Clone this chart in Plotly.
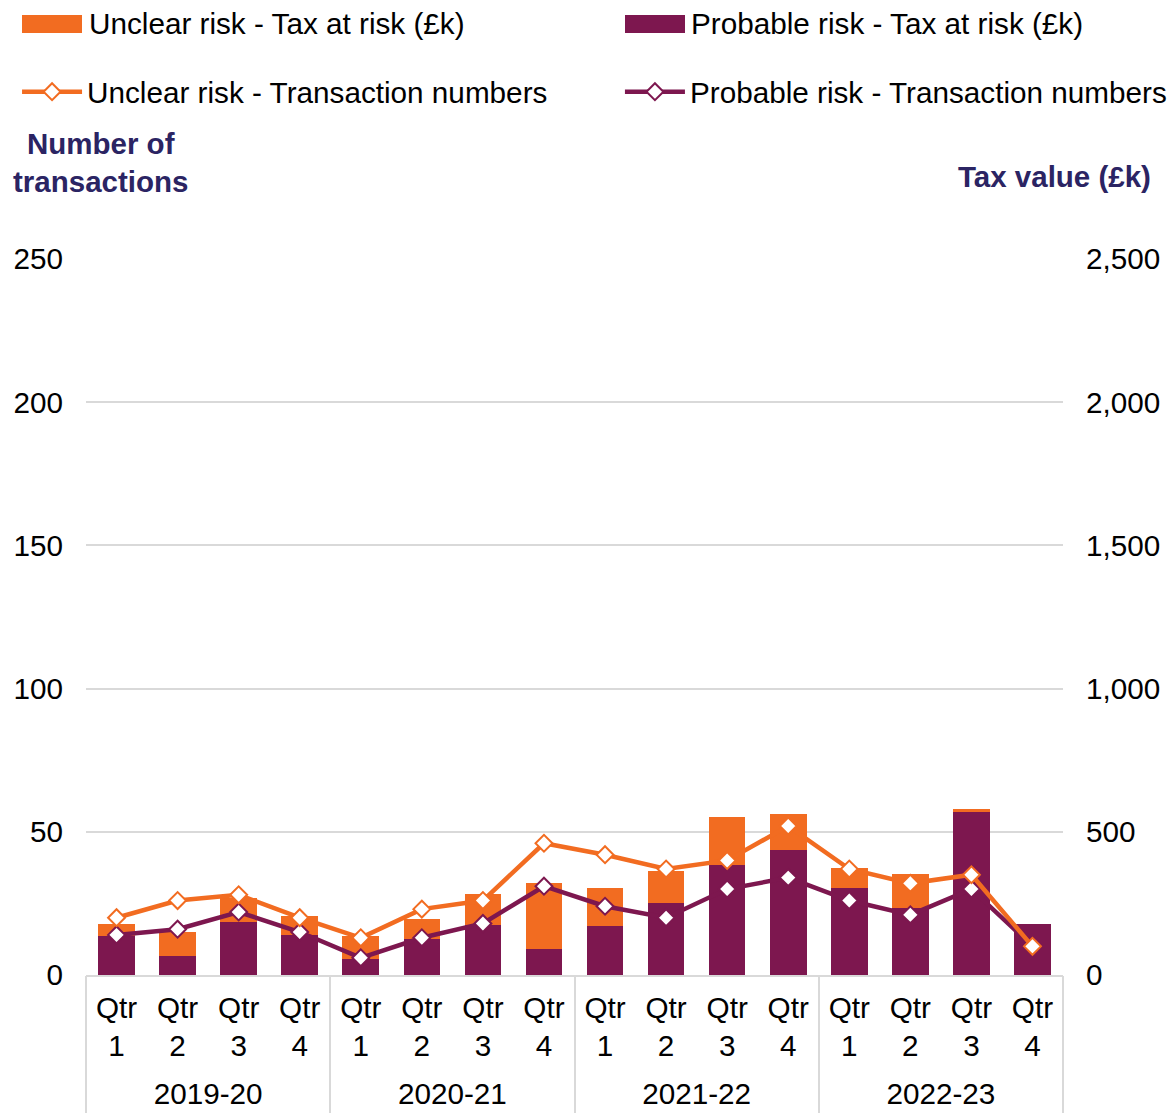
import plotly.graph_objects as go

years = ["2019-20"] * 4 + ["2020-21"] * 4 + ["2021-22"] * 4 + ["2022-23"] * 4
quarters = ["Qtr<br>1", "Qtr<br>2", "Qtr<br>3", "Qtr<br>4"] * 4
year_labels = ["2019-20", "2020-21", "2021-22", "2022-23"]

probable_tax = [136, 67, 186, 140, 56, 126, 174, 91, 172, 252, 384, 438, 305, 235, 570, 178]
unclear_tax = [42, 82, 82, 66, 81, 71, 110, 229, 131, 112, 169, 124, 70, 117, 11, 0]
unclear_txn = [20, 26, 28, 20, 13, 23, 26, 46, 42, 37, 40, 52, 37, 32, 35, 10]
probable_txn = [14, 16, 22, 15, 6, 13, 18, 31, 24, 20, 30, 34, 26, 21, 30, 10]

ORANGE = "#F26C21"
PURPLE = "#7D174F"
NAVY = "#2B2463"
GRID = "#D9D9D9"
FONT = "Liberation Sans, Arial, sans-serif"
FS = 29.7

cats = [f"{y} {q}" for y, q in zip(years, quarters)]

# page has an 8px body margin; plot area target: x 86..1063, y 259..975
PL, PW, PB, PH = 86, 977, 975, 716


def px(x):
    return (x - PL) / PW


def py(y):
    return (PB - y) / PH


fig = go.Figure()
fig.add_trace(go.Bar(x=cats, y=probable_tax, name="Probable risk - Tax at risk (£k)",
                     marker=dict(color=PURPLE, line=dict(width=0)), yaxis="y",
                     showlegend=False))
fig.add_trace(go.Bar(x=cats, y=unclear_tax, name="Unclear risk - Tax at risk (£k)",
                     marker=dict(color=ORANGE, line=dict(width=0)), yaxis="y",
                     showlegend=False))
fig.add_trace(go.Scatter(x=cats, y=probable_txn, name="Probable risk - Transaction numbers",
                         mode="lines+markers", yaxis="y2",
                         line=dict(color=PURPLE, width=4.5),
                         marker=dict(symbol="diamond", size=13, color="white",
                                     line=dict(color=PURPLE, width=2)),
                         legend="legend4"))
fig.add_trace(go.Scatter(x=cats, y=unclear_txn, name="Unclear risk - Transaction numbers",
                         mode="lines+markers", yaxis="y2",
                         line=dict(color=ORANGE, width=4.5),
                         marker=dict(symbol="diamond", size=13, color="white",
                                     line=dict(color=ORANGE, width=2)),
                         legend="legend3"))
# year-group axis
fig.add_trace(go.Scatter(x=year_labels, y=[None] * 4, xaxis="x2", yaxis="y",
                         mode="markers", showlegend=False, hoverinfo="skip"))

leg = dict(orientation="h", xref="container", yref="container", xanchor="left",
           yanchor="top", itemwidth=60, font=dict(size=FS, color="#000000"),
           bgcolor="rgba(0,0,0,0)")

# legend key for the bar series (drawn manually so it can sit at the very top)
shapes = [
    dict(type="rect", xref="paper", yref="paper", x0=px(22), x1=px(82), y0=py(33), y1=py(15),
         fillcolor=ORANGE, line=dict(width=0), layer="above"),
    dict(type="rect", xref="paper", yref="paper", x0=px(625), x1=px(685), y0=py(33), y1=py(15),
         fillcolor=PURPLE, line=dict(width=0), layer="above"),
]

fig.update_layout(
    width=1175, height=1113,
    margin=dict(l=PL - 8, r=1175 - (PL + PW) + 8, t=PB - PH - 8, b=1113 - PB + 8,
                autoexpand=False),
    paper_bgcolor="white", plot_bgcolor="white",
    font=dict(family=FONT, size=FS, color="#000000"),
    barmode="stack", bargap=0.4,
    xaxis=dict(type="category", range=[-0.5, 15.5], tickvals=cats, ticktext=quarters,
               showline=True, linecolor=GRID, linewidth=2, ticks="", ticklabelstandoff=5,
               tickfont=dict(size=FS, color="#000000"), showgrid=False, automargin=False),
    xaxis2=dict(type="category", overlaying="x", side="bottom", anchor="y",
                range=[-0.5, 3.5], tickson="boundaries", ticks="outside", ticklen=150,
                tickcolor=GRID, tickwidth=2, showgrid=False, showline=False,
                ticklabelstandoff=98, tickfont=dict(size=FS, color="#000000"),
                automargin=False),
    yaxis=dict(side="right", range=[0, 2500], dtick=500, tickformat=",",
               showgrid=True, gridcolor=GRID, gridwidth=2, zeroline=False,
               showline=False, ticks="", ticklabelstandoff=22, automargin=False,
               tickfont=dict(size=FS, color="#000000")),
    yaxis2=dict(overlaying="y", side="left", range=[0, 250], dtick=50,
                showgrid=False, zeroline=False, showline=False, ticks="",
                ticklabelstandoff=22, automargin=False,
                tickfont=dict(size=FS, color="#000000")),
    legend3=dict(leg, x=0.0077, y=0.948),
    legend4=dict(leg, x=0.5208, y=0.948),
    shapes=shapes,
    annotations=[
        dict(text="Unclear risk - Tax at risk (£k)", xref="paper", yref="paper",
             x=px(87), y=py(24), xanchor="left", yanchor="middle", showarrow=False,
             font=dict(size=FS, color="#000000", family=FONT)),
        dict(text="Probable risk - Tax at risk (£k)", xref="paper", yref="paper",
             x=px(689), y=py(24), xanchor="left", yanchor="middle", showarrow=False,
             font=dict(size=FS, color="#000000", family=FONT)),
        dict(text="<b>Number of<br>transactions</b>", xref="paper", yref="paper",
             x=px(100), y=py(163), xanchor="center", yanchor="middle", showarrow=False,
             font=dict(size=29.5, color=NAVY, family=FONT), align="center"),
        dict(text="<b>Tax value (£k)</b>", xref="paper", yref="paper",
             x=px(1153), y=py(176), xanchor="right", yanchor="middle", showarrow=False,
             font=dict(size=29.5, color=NAVY, family=FONT)),
    ],
)

fig.write_html("out.html")
